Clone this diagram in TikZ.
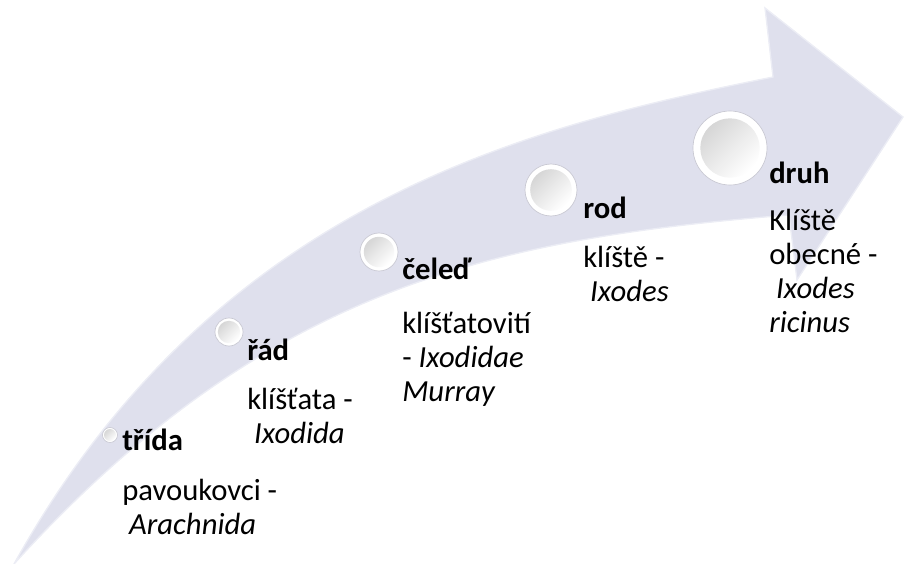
\documentclass[tikz,border=0pt]{standalone}
\usepackage{fontspec}
\setmainfont{Carlito}
\definecolor{ArrowFill}{RGB}{223,224,237}
\definecolor{ArrowEdge}{RGB}{236,237,245}
\definecolor{RimGray}{RGB}{200,200,210}
\usetikzlibrary{positioning,calc}

\begin{document}
\begin{tikzpicture}[x=0.75pt, y=-0.75pt,
      every node/.style={font=\fontsize{23}{25.5}\selectfont, align=left, inner sep=0pt},
      title/.style={font=\fontsize{23}{25.5}\selectfont\bfseries, anchor=base west},
      desc/.style={anchor=base west},
      sphere/.style={circle, fill=white, draw=RimGray, line width=0.5pt}
  ]
    \useasboundingbox (0,0) rectangle (904,564);
    % curved arrow
    \path[fill=ArrowFill, draw=ArrowEdge, line width=1pt]
      (14,564) .. controls (214,204) and (523,127) .. (773,77)
      -- (765,8) -- (903,117) -- (797,280) -- (789,215)
      .. controls (489,239) and (264,289) .. (14,564) -- cycle;
    % spheres
    \foreach \n/\x/\y/\r in {s1/110/435/7.5, s2/229/332/14, s3/379/252/19, s4/551/190/26, s5/730/148/37}{
      \node[sphere, minimum size=1.5pt*\r] (\n) at (\x,\y) {};
      \shade[top color=black!16, bottom color=white, shading angle=45] (\n.center) circle[radius=0.8*\r];
    }
    % labels (desc nodes sit on the baseline of their last line)
    \node[title] (t1) at (122,450) {třída};
    \node[desc] (d1) at (122,534) {pavoukovci -\\\ \textit{Arachnida}};
    \node[title] (t2) at (247,360) {řád};
    \node[desc] (d2) at (247,443) {klíšťata -\\\ \textit{Ixodida}};
    \node[title] (t3) at (402,279) {čeleď};
    \node[desc] (d3) at (402,401) {klíšťatovití\\- \textit{Ixodidae}\\\textit{Murray}};
    \node[title] (t4) at (583,218) {rod};
    \node[desc] (d4) at (583,301) {klíště -\\\ \textit{Ixodes}};
    \node[title] (t5) at (769,183) {druh};
    \node[desc] (d5) at (769,332) {Klíště\\obecné -\\\ \textit{Ixodes}\\\textit{ricinus}};
  \end{tikzpicture}
\end{document}
